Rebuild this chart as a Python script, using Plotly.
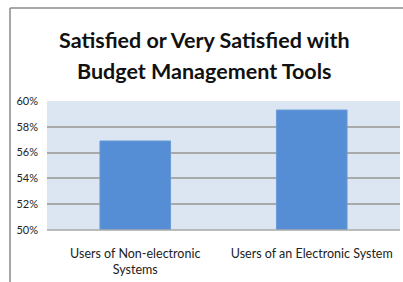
import plotly.graph_objects as go

categories = ["Users of Non-electronic<br>Systems", "Users of an Electronic System"]
values = [0.569, 0.593]
tick_vals = [0.50, 0.52, 0.54, 0.56, 0.58, 0.60]
tick_text = ["50%", "52%", "54%", "56%", "58%", "60%"]
title_lines = ["Satisfied or Very Satisfied with", "Budget Management Tools"]

W, H = 403, 282
L, R, T, B = 47, 3, 101, 52
pw, ph = W - L - R, H - T - B

def px2x(px):
    return (px - L) / pw

def py2y(py):
    return (H - B - py) / ph

fig = go.Figure()
fig.add_trace(go.Bar(
    x=categories, y=values, width=0.4,
    marker=dict(color="#558ed5", line=dict(color="#6a9bd8", width=1)),
))

annotations = []
for line, ypx in zip(title_lines, [40, 71]):
    annotations.append(dict(
        text="<b>" + line + "</b>", showarrow=False,
        xref="paper", yref="paper", x=px2x(204.5), y=py2y(ypx),
        xanchor="center", yanchor="middle",
        font=dict(family="Lato", size=21.5, color="#111111"),
    ))

fig.update_layout(
    width=W, height=H,
    margin=dict(l=L, r=R, t=T, b=B),
    paper_bgcolor="white",
    plot_bgcolor="#dce6f2",
    showlegend=False,
    font=dict(family="Lato", color="#222222"),
    annotations=annotations,
    xaxis=dict(
        showgrid=False, showline=False, ticks="",
        tickfont=dict(size=12.5, color="#222222"),
        ticklabelstandoff=14,
    ),
    yaxis=dict(
        range=[0.50, 0.60], tickvals=tick_vals, ticktext=tick_text,
        showgrid=True, gridcolor="#a9a9a9", gridwidth=1.5,
        zeroline=False, showline=False, ticks="",
        tickfont=dict(size=11, color="#222222"),
        ticklabelstandoff=8,
    ),
    shapes=[
        dict(type="line", xref="paper", yref="paper",
             x0=px2x(10), x1=px2x(10), y0=py2y(300), y1=py2y(8),
             line=dict(color="#8a8a8a", width=1.5)),
        dict(type="line", xref="paper", yref="paper",
             x0=px2x(10), x1=px2x(420), y0=py2y(8), y1=py2y(8),
             line=dict(color="#8a8a8a", width=1.5)),
        dict(type="line", xref="paper", yref="paper",
             x0=0, x1=1, y0=0, y1=0, layer="above",
             line=dict(color="#a9a9a9", width=1.5)),
    ],
)

fig.write_html(
    "out.html",
    config={"displayModeBar": False},
    post_script="document.body.style.margin='0';document.body.style.overflow='hidden';",
)
